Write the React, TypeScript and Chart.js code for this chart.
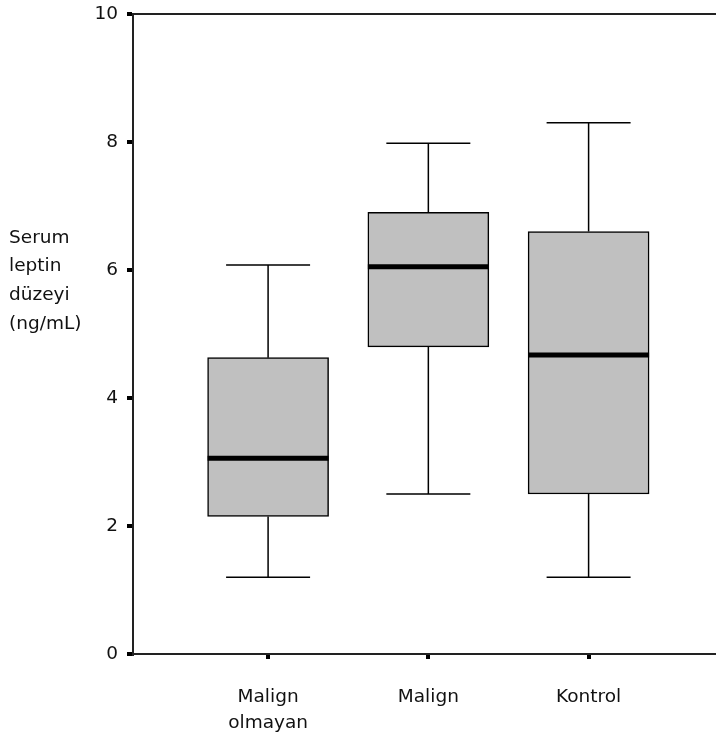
import React, { useEffect, useRef } from "react";
import { Chart, registerables } from "chart.js";
Chart.register(...registerables);

const categories: string[][] = [["Malign", "olmayan"], ["Malign"], ["Kontrol"]];
const positions = [1, 2, 3];
const whiskerMin = [1.2, 2.5, 1.2];
const q1 = [2.15, 4.8, 2.5];
const median = [3.06, 6.05, 4.67];
const q3 = [4.63, 6.9, 6.6];
const whiskerMax = [6.08, 7.98, 8.3];
const yTicks = [0, 2, 4, 6, 8, 10];
const yTitle = ["Serum", "leptin", "düzeyi", "(ng/mL)"];

const FONT = "'DejaVu Sans', sans-serif";
const TEXT = "#111";

const boxPlugin = {
  id: "boxWhiskers",
  afterDatasetsDraw(chart: any) {
    const x = chart.scales.x;
    const y = chart.scales.y;
    const meta = chart.getDatasetMeta(0);
    const ctx = chart.ctx;
    ctx.save();
    ctx.strokeStyle = "#000";
    for (let i = 0; i < positions.length; i++) {
      const cx = x.getPixelForValue(positions[i]);
      const el = meta.data[i];
      const half = el ? el.width / 2 : 60;
      const cap = 42;
      const yMin = y.getPixelForValue(whiskerMin[i]);
      const yQ1 = y.getPixelForValue(q1[i]);
      const yQ3 = y.getPixelForValue(q3[i]);
      const yMax = y.getPixelForValue(whiskerMax[i]);
      const yMed = y.getPixelForValue(median[i]);
      ctx.lineWidth = 1.5;
      ctx.beginPath();
      ctx.moveTo(cx, yQ3);
      ctx.lineTo(cx, yMax);
      ctx.moveTo(cx - cap, yMax);
      ctx.lineTo(cx + cap, yMax);
      ctx.moveTo(cx, yQ1);
      ctx.lineTo(cx, yMin);
      ctx.moveTo(cx - cap, yMin);
      ctx.lineTo(cx + cap, yMin);
      ctx.stroke();
      ctx.lineWidth = 5;
      ctx.beginPath();
      ctx.moveTo(cx - half, yMed);
      ctx.lineTo(cx + half, yMed);
      ctx.stroke();
    }
    ctx.restore();
  },
  afterDraw(chart: any) {
    const ctx = chart.ctx;
    const area = chart.chartArea;
    ctx.save();
    ctx.strokeStyle = "#222";
    ctx.lineWidth = 2;
    ctx.beginPath();
    ctx.moveTo(area.left, area.top);
    ctx.lineTo(chart.width, area.top);
    ctx.stroke();
    ctx.fillStyle = TEXT;
    ctx.font = `18.5px ${FONT}`;
    ctx.textAlign = "left";
    ctx.textBaseline = "alphabetic";
    const baselines = [243, 271, 300, 329];
    yTitle.forEach((t, i) => ctx.fillText(t, 9, baselines[i]));
    ctx.restore();
  },
};

export default function App() {
  const ref = useRef<HTMLCanvasElement>(null);
  useEffect(() => {
    document.body.style.margin = "0";
    if (!ref.current) return;
    const chart = new Chart(ref.current, {
      type: "bar",
      data: {
        datasets: [
          {
            data: positions.map((p, i) => ({ x: p, y: [q1[i], q3[i]] })) as any,
            backgroundColor: "#c0c0c0",
            borderColor: "#000",
            borderWidth: 1.5,
            borderSkipped: false,
            barThickness: 121,
          } as any,
        ],
      },
      options: {
        animation: false,
        responsive: true,
        maintainAspectRatio: false,
        events: [],
        layout: { padding: { top: 14, left: 0, right: 0, bottom: 0 } },
        plugins: { legend: { display: false }, tooltip: { enabled: false } },
        scales: {
          x: {
            type: "linear",
            min: 0.157,
            max: 3.795,
            offset: false,
            afterBuildTicks: (s: any) => {
              s.ticks = positions.map((v) => ({ value: v }));
            },
            afterFit: (s: any) => {
              s.height = 83;
            },
            ticks: {
              autoSkip: false,
              maxRotation: 0,
              padding: 25.5,
              color: TEXT,
              font: { family: FONT, size: 18.5, lineHeight: "26px" } as any,
              callback: (v: any) => categories[positions.indexOf(Number(v))] ?? "",
            },
            grid: {
              display: true,
              offset: false,
              drawOnChartArea: false,
              drawTicks: true,
              tickLength: 5,
              lineWidth: 4,
              color: "#000",
            },
            border: { display: true, color: "#222", width: 2 },
          },
          y: {
            type: "linear",
            min: 0,
            max: 10,
            afterBuildTicks: (s: any) => {
              s.ticks = yTicks.map((v) => ({ value: v }));
            },
            afterFit: (s: any) => {
              s.width = 133;
              s.paddingTop = 0;
              s.paddingBottom = 0;
            },
            ticks: {
              padding: 9,
              color: TEXT,
              font: { family: FONT, size: 18.5 },
            },
            grid: {
              display: true,
              drawOnChartArea: false,
              drawTicks: true,
              tickLength: 6,
              lineWidth: 4,
              color: "#000",
            },
            border: { display: true, color: "#222", width: 2 },
          },
        },
      },
      plugins: [boxPlugin],
    });
    return () => chart.destroy();
  }, []);
  return (
    <div style={{ width: 716, height: 737, position: "relative" }}>
      <canvas ref={ref} />
    </div>
  );
}
